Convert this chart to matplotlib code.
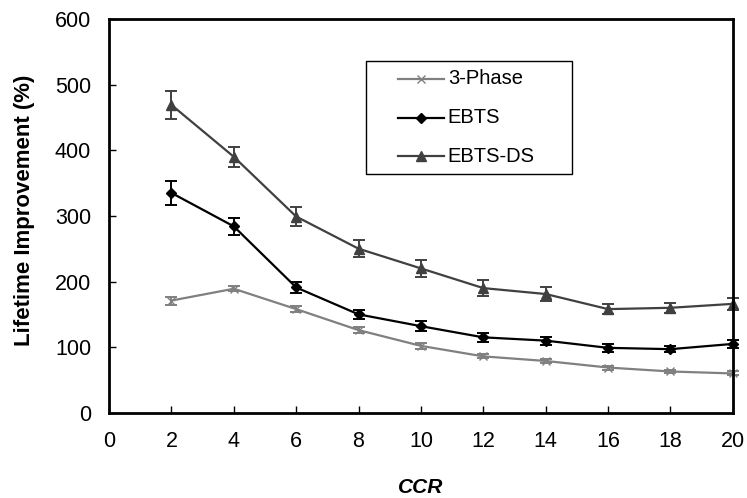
import numpy as np
import matplotlib
matplotlib.use("Agg")
import matplotlib.pyplot as plt

plt.rcParams['font.family'] = ['Liberation Sans', 'DejaVu Sans']

# data
ccr = [2, 4, 6, 8, 10, 12, 14, 16, 18, 20]
phase3 = [171, 189, 158, 126, 102, 86, 79, 69, 63, 60]
phase3_err = [6, 4, 4, 4, 4, 3, 3, 3, 3, 3]
ebts = [335, 284, 191, 150, 132, 115, 110, 99, 97, 105]
ebts_err = [18, 13, 9, 7, 8, 7, 6, 6, 5, 6]
ebts_ds = [469, 390, 299, 250, 220, 190, 181, 158, 160, 166]
ebts_ds_err = [21, 15, 14, 13, 13, 12, 10, 8, 8, 9]

labels = ['3-Phase', 'EBTS', 'EBTS-DS']
colors = ['#808080', 'black', '#404040']
markers = ['x', 'D', '^']
msizes = [6, 5, 7]

fig = plt.figure(figsize=(7.47, 4.98), dpi=100)
ax = fig.add_axes([0.146, 0.171, 0.835, 0.791])

series = [(phase3, phase3_err), (ebts, ebts_err), (ebts_ds, ebts_ds_err)]
for (vals, errs), c, m, ms in zip(series, colors, markers, msizes):
    ax.errorbar(ccr, vals, yerr=errs, color=c, marker=m, markersize=ms,
                lw=1.6, capsize=4, elinewidth=1.4, capthick=1.4, clip_on=False)

ax.set_xlim(0, 20)
ax.set_ylim(0, 600)
ax.set_xticks(np.arange(0, 21, 2))
ax.set_yticks(np.arange(0, 601, 100))
ax.tick_params(direction='in', labelsize=15.5, length=5, width=1, pad=13)
for s in ax.spines.values():
    s.set_linewidth(2)

ax.set_xlabel('CCR', fontsize=15, fontweight='bold', style='italic')
ax.xaxis.set_label_coords(0.5, -0.165)
ax.set_ylabel('Lifetime Improvement (%)', fontsize=16, fontweight='bold')
ax.yaxis.set_label_coords(-0.119, 0.513)

# hand-made legend box like the original
ax.add_patch(plt.Rectangle((0.412, 0.607), 0.330, 0.286, transform=ax.transAxes,
                           fill=False, edgecolor='black', lw=1.0, zorder=5))
rows = [0.848, 0.749, 0.652]
for lab, c, m, ms, yy in zip(labels, colors, markers, msizes, rows):
    ax.plot([0.463, 0.537], [yy, yy], color=c, lw=1.6, transform=ax.transAxes, zorder=6)
    ax.plot([0.50], [yy], color=c, marker=m, markersize=ms, transform=ax.transAxes, zorder=6)
    ax.text(0.543, yy, lab, fontsize=14.5, va='center', ha='left', transform=ax.transAxes)

fig.savefig('out.png', dpi=100)
